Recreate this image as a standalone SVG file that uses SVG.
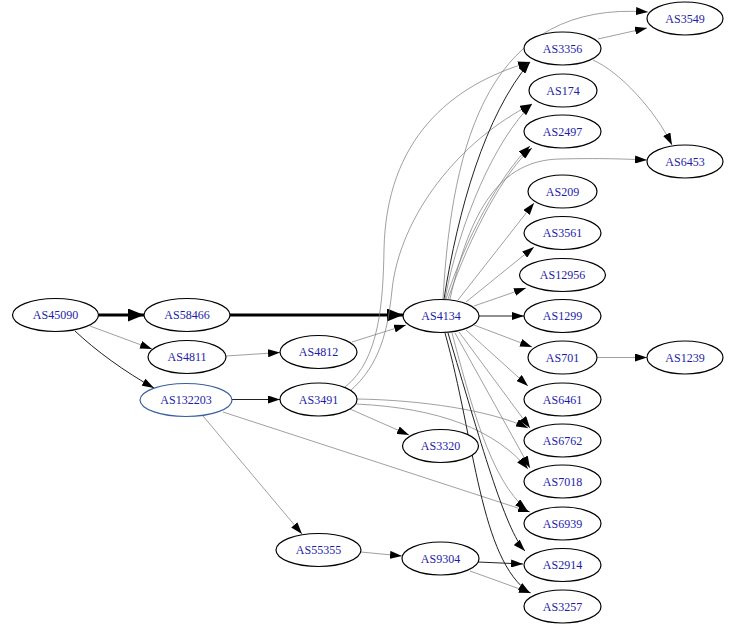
<svg xmlns="http://www.w3.org/2000/svg" width="748" height="639" viewBox="0 0 748 639">
<defs>
<marker id="a" markerUnits="userSpaceOnUse" markerWidth="12" markerHeight="8" refX="12" refY="4" orient="auto"><path d="M0,0 L12,4 L0,8 z" fill="#000"/></marker>
<marker id="b" markerUnits="userSpaceOnUse" markerWidth="16" markerHeight="13" refX="16" refY="6.5" orient="auto"><path d="M0,0 L16,6.5 L0,13 z" fill="#000"/></marker>
<style>
.n ellipse{fill:#fff;stroke:#000;stroke-width:1.2}
.n text{font-family:"Liberation Serif","Times New Roman",serif;font-size:12px;fill:#1c1ca8;text-anchor:middle;dominant-baseline:central}
.e path{fill:none;marker-end:url(#a)}
.g{stroke:#777;stroke-width:0.7}
.k{stroke:#222;stroke-width:1}
.t{stroke:#000;stroke-width:3;marker-end:url(#b)!important}
</style>
</defs>
<rect width="748" height="639" fill="#fff"/>
<g id="edges" class="e">
<path class="t" d="M98.5,315 L144,315"/>
<path class="t" d="M230,315 L403,315"/>
<path class="g" d="M90,326 L152,349"/>
<path class="k" d="M75,331 C95,350 125,372 154,388"/>
<path class="g" d="M226,356 L280,352.5"/>
<path class="g" d="M352,342 L406,325"/>
<path class="k" d="M232,399.5 L280,399.5"/>
<path class="g" d="M203,416 L302,534"/>
<path class="g" d="M223,412 L530,512"/>
<path class="g" d="M361,552 L402,556"/>
<path class="k" d="M478,562 L523,564"/>
<path class="g" d="M470,571 L531,593"/>
<path class="g" d="M597,357.5 L647,357.5"/>
<path class="g" d="M598,39 L647,28"/>
<path class="g" d="M593,60 C620,72 655,110 672,145"/>
<path class="g" d="M350,409 L409,435"/>
<path class="g" d="M357,399 C420,400 490,410 528,428"/>
<path class="g" d="M356,404 C440,408 495,430 528,469"/>
<path class="g" d="M345,387 C380,360 383,300 384,250 C386,140 450,85 530,62"/>
<path class="g" d="M350,391 C380,365 388,330 392,290 C400,215 460,140 532,104"/>
<path class="k" d="M479,316 L524,316"/>
<path class="g" d="M474,306 L526,288"/>
<path class="g" d="M466,302 L534,247"/>
<path class="g" d="M458,300 L534,203"/>
<path class="g" d="M474,325 L532,347"/>
<path class="g" d="M466,330 L528,386"/>
<path class="g" d="M459,332 L530,428"/>
<path class="g" d="M455,333 L530,468"/>
<path class="g" d="M452,333 C470,400 490,480 527,510"/>
<path class="k" d="M448,333 C480,440 505,530 525,551"/>
<path class="k" d="M445,333 C475,440 480,560 530,593"/>
<path class="k" d="M444,299 C458,210 485,115 530,62"/>
<path class="g" d="M445,299 C460,220 495,140 532,104"/>
<path class="g" d="M446,299 C465,240 500,175 530,146"/>
<path class="g" d="M448,299 C470,235 505,170 532,148"/>
<path class="g" d="M443,299 C452,140 490,0 648,12"/>
<path class="g" d="M450,299 C470,210 500,160 560,159 C600,158 625,159 647,160"/>
</g>
<g id="AS45090" class="n"><ellipse cx="55.5" cy="315" rx="43" ry="16.5"/><text x="55.5" y="315">AS45090</text></g>
<g id="AS58466" class="n"><ellipse cx="187" cy="315" rx="43" ry="16.5"/><text x="187" y="315">AS58466</text></g>
<g id="AS4811" class="n"><ellipse cx="187" cy="357" rx="39" ry="16.5"/><text x="187" y="357">AS4811</text></g>
<g id="AS132203" class="n"><ellipse cx="186" cy="400" rx="46" ry="16.5" style="stroke:#3a5f9f"/><text x="186" y="400">AS132203</text></g>
<g id="AS4812" class="n"><ellipse cx="318.5" cy="352" rx="38.5" ry="16.5"/><text x="318.5" y="352">AS4812</text></g>
<g id="AS3491" class="n"><ellipse cx="318.5" cy="399.5" rx="38.5" ry="16.5"/><text x="318.5" y="399.5">AS3491</text></g>
<g id="AS4134" class="n"><ellipse cx="441" cy="316" rx="38" ry="16.5"/><text x="441" y="316">AS4134</text></g>
<g id="AS3320" class="n"><ellipse cx="440.5" cy="446" rx="38" ry="16.5"/><text x="440.5" y="446">AS3320</text></g>
<g id="AS55355" class="n"><ellipse cx="318.5" cy="550" rx="42.5" ry="16.5"/><text x="318.5" y="550">AS55355</text></g>
<g id="AS9304" class="n"><ellipse cx="440.5" cy="558.5" rx="38.5" ry="16.5"/><text x="440.5" y="558.5">AS9304</text></g>
<g id="AS3356" class="n"><ellipse cx="562.5" cy="48.5" rx="38.5" ry="16.5"/><text x="562.5" y="48.5">AS3356</text></g>
<g id="AS174" class="n"><ellipse cx="563" cy="90.5" rx="34" ry="16.5"/><text x="563" y="90.5">AS174</text></g>
<g id="AS2497" class="n"><ellipse cx="562.5" cy="131.5" rx="38.5" ry="16.5"/><text x="562.5" y="131.5">AS2497</text></g>
<g id="AS209" class="n"><ellipse cx="562.5" cy="191.5" rx="34.5" ry="16.5"/><text x="562.5" y="191.5">AS209</text></g>
<g id="AS3561" class="n"><ellipse cx="562.5" cy="233" rx="38.5" ry="16.5"/><text x="562.5" y="233">AS3561</text></g>
<g id="AS12956" class="n"><ellipse cx="562.5" cy="275" rx="43" ry="16.5"/><text x="562.5" y="275">AS12956</text></g>
<g id="AS1299" class="n"><ellipse cx="562.5" cy="316" rx="38.5" ry="16.5"/><text x="562.5" y="316">AS1299</text></g>
<g id="AS701" class="n"><ellipse cx="562.5" cy="357.5" rx="34.5" ry="16.5"/><text x="562.5" y="357.5">AS701</text></g>
<g id="AS6461" class="n"><ellipse cx="562.5" cy="399.5" rx="38.5" ry="16.5"/><text x="562.5" y="399.5">AS6461</text></g>
<g id="AS6762" class="n"><ellipse cx="562.5" cy="440.5" rx="38.5" ry="16.5"/><text x="562.5" y="440.5">AS6762</text></g>
<g id="AS7018" class="n"><ellipse cx="562.5" cy="481.5" rx="38.5" ry="16.5"/><text x="562.5" y="481.5">AS7018</text></g>
<g id="AS6939" class="n"><ellipse cx="562.5" cy="523.5" rx="38.5" ry="16.5"/><text x="562.5" y="523.5">AS6939</text></g>
<g id="AS2914" class="n"><ellipse cx="562.5" cy="565" rx="38.5" ry="16.5"/><text x="562.5" y="565">AS2914</text></g>
<g id="AS3257" class="n"><ellipse cx="562.5" cy="606.5" rx="38.5" ry="16.5"/><text x="562.5" y="606.5">AS3257</text></g>
<g id="AS3549" class="n"><ellipse cx="685" cy="18.5" rx="38" ry="16.5"/><text x="685" y="18.5">AS3549</text></g>
<g id="AS6453" class="n"><ellipse cx="685" cy="161.5" rx="38" ry="16.5"/><text x="685" y="161.5">AS6453</text></g>
<g id="AS1239" class="n"><ellipse cx="685" cy="357.5" rx="38" ry="16.5"/><text x="685" y="357.5">AS1239</text></g>
</svg>
